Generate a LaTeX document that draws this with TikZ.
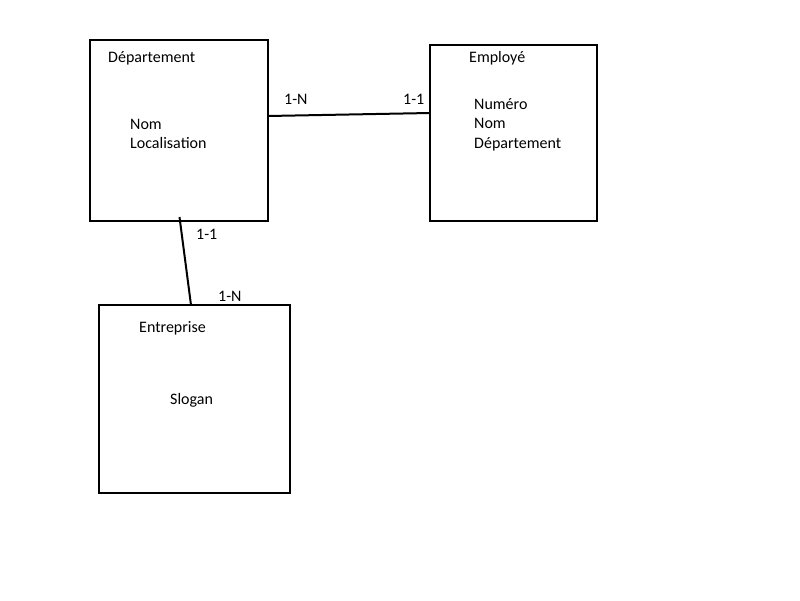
\documentclass[tikz,border=0pt]{standalone}
\usepackage{fontspec}
\setmainfont{Carlito}
\begin{document}
\begin{tikzpicture}[x=1pt,y=-1pt,
  entity/.style={draw=black,line width=2pt,fill=none},
  lbl/.style={anchor=base west,inner sep=0pt,font=\fontsize{16}{19}\selectfont},
  link/.style={draw=black,line width=2pt}]
\useasboundingbox[fill=white] (0,0) rectangle (800,600);
% boxes
\path[entity] (90,40) rectangle (268,221);
\path[entity] (430,45) rectangle (597,221);
\path[entity] (99,305) rectangle (290,493);
\coordinate (depE) at (268,116);
\coordinate (empW) at (430,113);
\coordinate (depS) at (179.5,217);
\coordinate (entN) at (191,305);
% labels
\node[lbl] (t1) at (108,62) {Département};
\node[lbl] (t2) at (130,129) {Nom};
\node[lbl] (t3) at (130,148.5) {Localisation};
\node[lbl] (t4) at (469,62.5) {Employé};
\node[lbl] (t5) at (474,109) {Numéro};
\node[lbl] (t6) at (474,128.5) {Nom};
\node[lbl] (t7) at (474,148) {Département};
\node[lbl] (t8) at (139,332) {Entreprise};
\node[lbl] (t9) at (170,404) {Slogan};
\node[lbl] (c1) at (284,104.5) {1-N};
\node[lbl] (c2) at (403,104.5) {1-1};
\node[lbl] (c3) at (196,239.5) {1-1};
\node[lbl] (c4) at (218,301.5) {1-N};
% connectors
\draw[link] (depE) -- (empW);
\draw[link] (depS) -- (entN);
\end{tikzpicture}
\end{document}
